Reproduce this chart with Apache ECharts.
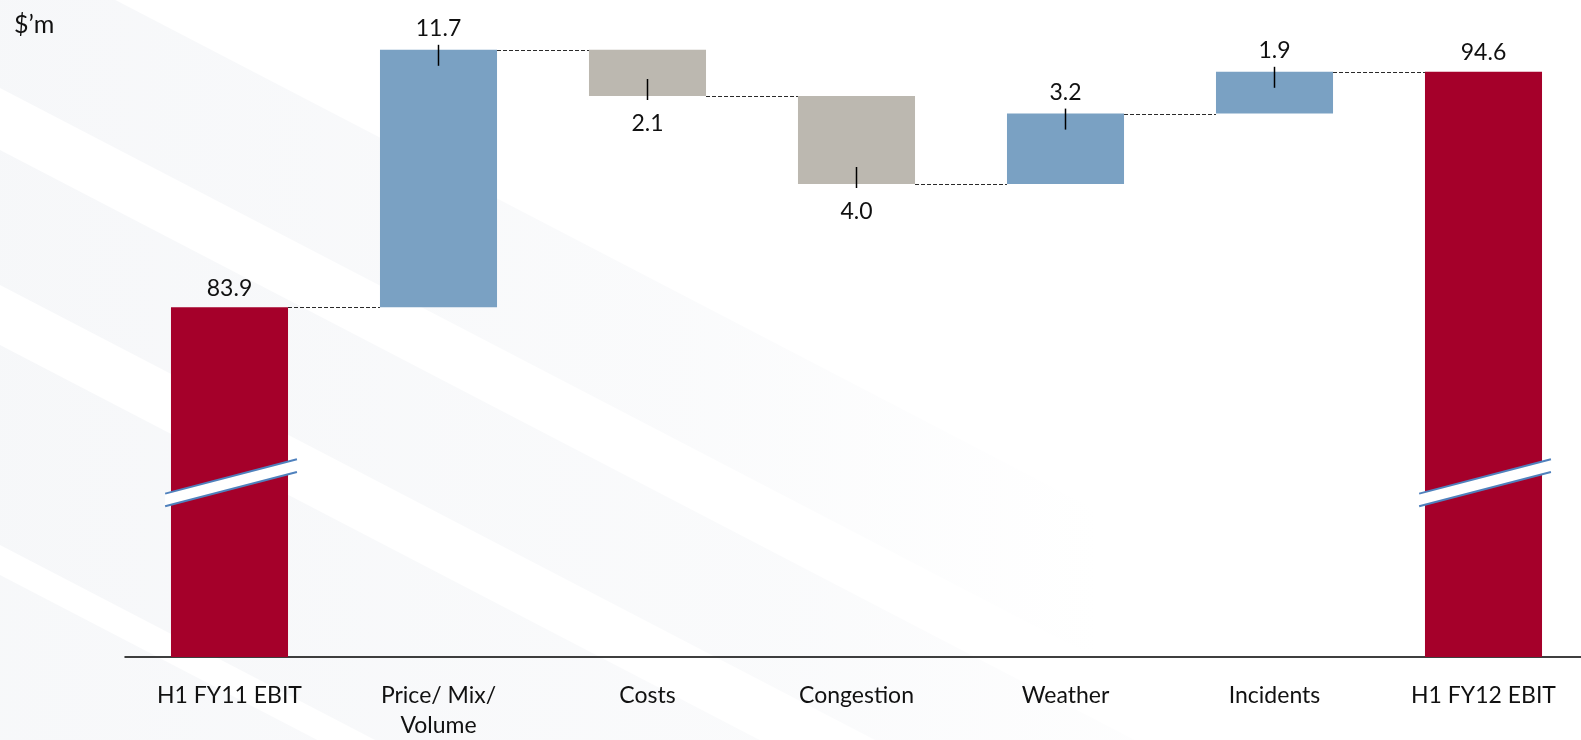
<!DOCTYPE html>
<html>
<head>
<meta charset="utf-8">
<title>EBIT bridge H1 FY11 to H1 FY12</title>
<script src="https://cdn.jsdelivr.net/npm/echarts@6/dist/echarts.min.js"></script>
<style>
  html, body { margin: 0; padding: 0; background: #ffffff; }
  #chart { width: 1581px; height: 740px; }
</style>
</head>
<body>
<div id="chart"></div>
<script>
// ---- data ($'m) ----
const CATEGORIES = ['H1 FY11 EBIT', 'Price/ Mix/\nVolume', 'Costs', 'Congestion', 'Weather', 'Incidents', 'H1 FY12 EBIT'];
const OPENING = 83.9;                       // H1 FY11 EBIT
const DELTAS = [11.7, -2.1, -4.0, 3.2, 1.9]; // movements between the two totals
const CLOSING = 94.6;                       // H1 FY12 EBIT
const UNIT_LABEL = '$\u2019m';

// value axis is cut (broken bars), so it starts above zero
const AXIS_MIN = 68;
const AXIS_MAX = 97;
const BREAK_AT = 75.9;

// ---- derived series ----
const running = [OPENING];
DELTAS.forEach(d => running.push(+(running[running.length - 1] + d).toFixed(1)));
const last = CATEGORIES.length - 1;

const baseData = CATEGORIES.map((c, i) => {
  if (i === 0 || i === last) return '-';
  const d = DELTAS[i - 1];
  return d >= 0 ? running[i - 1] : running[i];
});
const changeData = CATEGORIES.map((c, i) => {
  if (i === 0 || i === last) return '-';
  const d = DELTAS[i - 1];
  const up = d >= 0;
  return {
    value: Math.abs(d),
    itemStyle: { color: up ? '#7aa1c3' : '#bcb8b0' },
    label: { position: up ? 'top' : 'bottom', distance: up ? 8 : 15 }
  };
});
const totalData = CATEGORIES.map((c, i) => i === 0 ? OPENING : (i === last ? CLOSING : '-'));

const FONT = 'Lato, "Open Sans", sans-serif';
const FONT_SIZE = 23;
const BAR_FRACTION = 0.56;

// faint diagonal bands in the background
const SLOPE = 0.52;
function band(a, b, endX, alpha) {
  return {
    type: 'polygon', z: -10, silent: true,
    shape: { points: [[0, a], [endX, a + endX * SLOPE], [endX, b + endX * SLOPE], [0, b]] },
    style: {
      fill: new echarts.graphic.LinearGradient(0, 0, 1, 0, [
        { offset: 0, color: 'rgba(232,235,240,' + alpha + ')' },
        { offset: 0.6, color: 'rgba(232,235,240,' + (alpha * 0.6) + ')' },
        { offset: 1, color: 'rgba(232,235,240,0)' }
      ])
    }
  };
}

const chart = echarts.init(document.getElementById('chart'), null, { renderer: 'canvas' });

chart.setOption({
  animation: false,
  backgroundColor: '#ffffff',
  title: {
    text: UNIT_LABEL, left: 9, top: 7,
    textStyle: { fontFamily: FONT, fontSize: 25, fontWeight: 'normal', color: '#111' }
  },
  graphic: [
    band(-60, 88, 1100, 0.38),
    band(150, 285, 1300, 0.38),
    band(345, 545, 1250, 0.38),
    band(575, 800, 1100, 0.35)
  ],
  grid: { left: 125, top: 19, width: 1463, height: 638, containLabel: false, outerBoundsMode: 'none' },
  xAxis: {
    type: 'category',
    data: CATEGORIES,
    axisLine: { show: true, lineStyle: { color: '#000', width: 1.5 } },
    axisTick: { show: false },
    axisLabel: {
      interval: 0, margin: 24, color: '#111',
      fontFamily: FONT, fontSize: FONT_SIZE, lineHeight: 30
    },
    splitLine: { show: false }
  },
  yAxis: {
    type: 'value', min: AXIS_MIN, max: AXIS_MAX, show: false,
    splitLine: { show: false }
  },
  series: [
    {
      name: 'base', type: 'bar', stack: 'bridge', silent: true,
      barWidth: BAR_FRACTION * 100 + '%', barGap: '-100%',
      itemStyle: { color: 'transparent' },
      data: baseData
    },
    {
      name: 'change', type: 'bar', stack: 'bridge',
      barWidth: BAR_FRACTION * 100 + '%', barGap: '-100%',
      label: {
        show: true, fontFamily: FONT, fontSize: FONT_SIZE, lineHeight: 26, color: '#111',
        formatter: p => Number(p.value).toFixed(1)
      },
      data: changeData
    },
    {
      name: 'total', type: 'bar',
      barWidth: BAR_FRACTION * 100 + '%', barGap: '-100%',
      itemStyle: { color: '#a5002a' },
      label: {
        show: true, position: 'top', distance: 6,
        fontFamily: FONT, fontSize: FONT_SIZE, lineHeight: 26, color: '#111',
        formatter: p => Number(p.value).toFixed(1)
      },
      data: totalData
    },
    {
      // connectors, value ticks and axis-break marks
      name: 'overlay', type: 'custom', silent: true, z: 5,
      data: CATEGORIES.map((c, i) => i),
      renderItem: function (params, api) {
        const i = params.dataIndex;
        const bw = api.size([1, 0])[0] * BAR_FRACTION;
        const children = [];
        const cx = api.coord([i, AXIS_MIN])[0];

        if (i < last) {
          const y = Math.round(api.coord([i, running[i]])[1]) + 0.5;
          const nx = api.coord([i + 1, running[i]])[0];
          children.push({
            type: 'line',
            shape: { x1: cx + bw / 2, y1: y, x2: nx - bw / 2, y2: y },
            style: { stroke: '#2a2a2a', lineWidth: 1, lineDash: [4, 2] }
          });
        }
        if (i > 0 && i < last) {
          const d = DELTAS[i - 1];
          const y = api.coord([i, running[i]])[1];
          const shape = d >= 0
            ? { x1: cx, y1: y - 5, x2: cx, y2: y + 16 }
            : { x1: cx, y1: y - 17, x2: cx, y2: y + 4 };
          children.push({ type: 'line', shape: shape, style: { stroke: '#000', lineWidth: 1.5 } });
        }
        if (i === 0 || i === last) {
          const cy = api.coord([i, BREAK_AT])[1];
          const l = bw * 0.55, r = bw * 0.576, k = 0.2604, h = 6.35;
          const uL = [cx - l, cy - h + l * k], uR = [cx + r, cy - h - r * k];
          const dL = [cx - l, cy + h + l * k], dR = [cx + r, cy + h - r * k];
          children.push({
            type: 'polygon', shape: { points: [uL, uR, dR, dL] },
            style: { fill: '#ffffff', stroke: null }
          });
          children.push({
            type: 'line', shape: { x1: uL[0], y1: uL[1], x2: uR[0], y2: uR[1] },
            style: { stroke: '#4f81bd', lineWidth: 2 }
          });
          children.push({
            type: 'line', shape: { x1: dL[0], y1: dL[1], x2: dR[0], y2: dR[1] },
            style: { stroke: '#4f81bd', lineWidth: 2 }
          });
        }
        return { type: 'group', children: children };
      }
    }
  ]
});
</script>
</body>
</html>
